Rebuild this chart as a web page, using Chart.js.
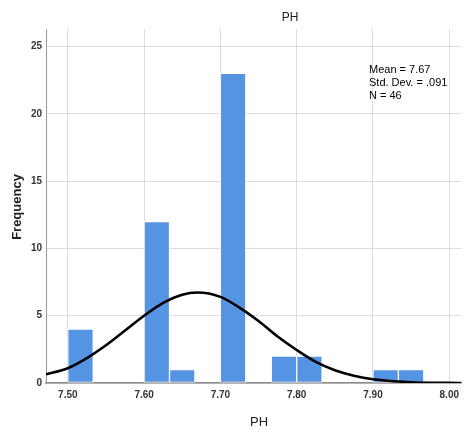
<!DOCTYPE html>
<html>
<head>
<meta charset="utf-8">
<script src="https://cdn.jsdelivr.net/npm/chart.js@4.4.1/dist/chart.umd.min.js"></script>
<style>
  html, body { margin: 0; padding: 0; background: #fff; }
  #wrap { width: 465px; height: 432px; position: relative; }
</style>
</head>
<body>
<div id="wrap"><canvas id="phChart"></canvas></div>
<script>
// Histogram bins (width 1/30, starting at 7.50) and counts
const binStarts = [7.5, 7.5333, 7.5667, 7.6, 7.6333, 7.6667, 7.7, 7.7333, 7.7667, 7.8, 7.8333, 7.8667, 7.9, 7.9333, 7.9667];
const binCounts = [4, 0, 0, 12, 1, 0, 23, 0, 2, 2, 0, 0, 1, 1, 0];
const binWidth = 0.03333;

// Normal curve, points
const curveX = [7.4714, 7.5, 7.525, 7.55, 7.575, 7.6, 7.625, 7.65, 7.67, 7.7, 7.725, 7.75, 7.775, 7.8, 7.825, 7.85, 7.875, 7.9, 7.95, 8.0, 8.0156];
const curveY = [0.65, 1.1, 1.85, 2.8, 3.9, 5.0, 5.95, 6.56, 6.72, 6.4, 5.6, 4.6, 3.45, 2.45, 1.57, 0.95, 0.54, 0.28, 0.06, 0.01, 0.0];

const xTicks = [7.5, 7.6, 7.7, 7.8, 7.9, 8.0];
const yTicks = [0, 5, 10, 15, 20, 25];
const statLines = ['Mean = 7.67', 'Std. Dev. = .091', 'N = 46'];

const narrow = "'Liberation Sans Narrow', 'Liberation Sans', Arial, sans-serif";
const regular = "'Liberation Sans', Arial, sans-serif";

const barData = binStarts.map((s, i) => ({ x: s + binWidth / 2, y: binCounts[i] }));
const lineData = curveX.map((x, i) => ({ x: x, y: curveY[i] }));

// Titles and the stats box
const labelsPlugin = {
    id: 'labels',
    afterDraw(chart) {
        const ctx = chart.ctx;
        ctx.save();
        ctx.fillStyle = '#222';
        ctx.textAlign = 'center';
        ctx.textBaseline = 'middle';
        ctx.font = '12px ' + regular;
        ctx.fillText('PH', 290, 18);
        ctx.font = '13px ' + regular;
        ctx.fillText('PH', 259, 422);

        ctx.save();
        ctx.translate(17, 207);
        ctx.rotate(-Math.PI / 2);
        ctx.font = 'bold 13px ' + regular;
        ctx.fillText('Frequency', 0, 0);
        ctx.restore();

        ctx.textAlign = 'left';
        ctx.font = '11px ' + narrow;
        ctx.fillStyle = '#000';
        statLines.forEach((t, i) => ctx.fillText(t, 369, 70 + i * 13));
        ctx.restore();
    }
};

new Chart(document.getElementById('phChart'), {
    data: {
        datasets: [
            {
                type: 'line',
                data: lineData,
                borderColor: '#000',
                borderWidth: 2.6,
                pointRadius: 0,
                cubicInterpolationMode: 'monotone',
                order: 0
            },
            {
                type: 'bar',
                data: barData,
                backgroundColor: '#5593e3',
                borderColor: 'rgba(255,255,255,0.75)',
                borderWidth: 1,
                borderSkipped: false,
                barPercentage: 1,
                categoryPercentage: 1,
                order: 1
            }
        ]
    },
    options: {
        responsive: true,
        maintainAspectRatio: false,
        animation: false,
        layout: { padding: { top: 29, left: 0, right: 0, bottom: 0 } },
        plugins: {
            legend: { display: false },
            tooltip: { enabled: false }
        },
        scales: {
            x: {
                type: 'linear',
                min: 7.4714,
                max: 8.0156,
                offset: false,
                afterBuildTicks: s => { s.ticks = xTicks.map(v => ({ value: v })); },
                afterFit: s => { s.height = 49; },
                grid: { color: '#dcdcdc', drawTicks: false, offset: false },
                border: { color: '#8a8a8a', width: 1.5 },
                ticks: {
                    padding: 6,
                    color: '#333',
                    font: { family: narrow, size: 10, weight: 'bold' },
                    callback: v => v.toFixed(2)
                }
            },
            y: {
                min: 0,
                max: 26.3,
                afterBuildTicks: s => { s.ticks = yTicks.map(v => ({ value: v })); },
                afterFit: s => { s.width = 46; },
                grid: { color: '#dcdcdc', drawTicks: false },
                border: { color: '#9a9a9a', width: 1 },
                ticks: {
                    padding: 4,
                    color: '#333',
                    font: { family: narrow, size: 10, weight: 'bold' }
                }
            }
        }
    },
    plugins: [labelsPlugin]
});
</script>
</body>
</html>
